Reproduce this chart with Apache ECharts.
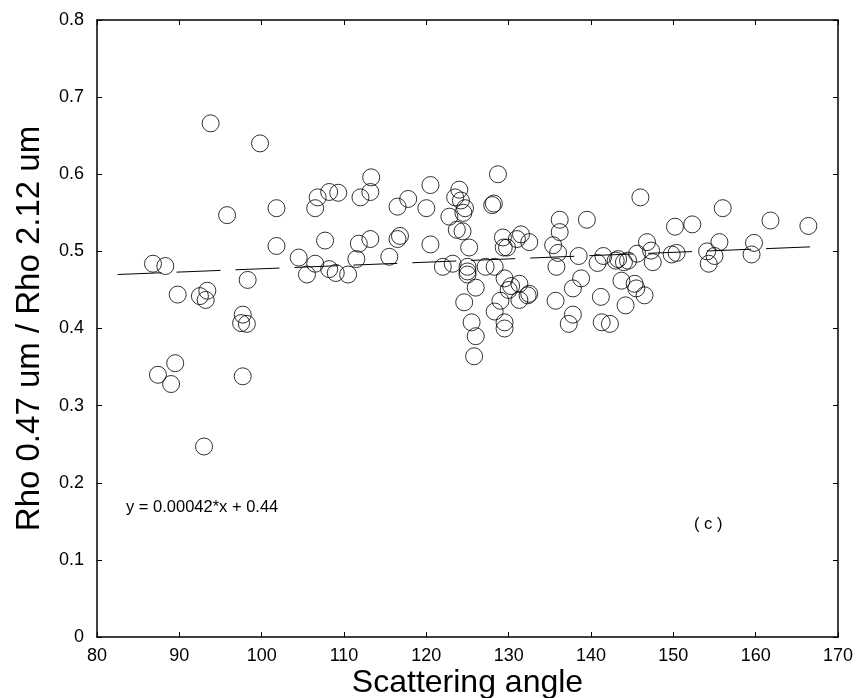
<!DOCTYPE html>
<html>
<head>
<meta charset="utf-8">
<script src="https://cdn.jsdelivr.net/npm/echarts@6/dist/echarts.min.js"></script>
<style>html,body{margin:0;padding:0;background:#fff}#c{width:867px;height:698px}</style>
</head>
<body>
<div id="c"></div>
<script>
const xTicks = [80, 90, 100, 110, 120, 130, 140, 150, 160, 170];
const yTicks = [0, 0.1, 0.2, 0.3, 0.4, 0.5, 0.6, 0.7, 0.8];
const angleX = [86.8,88.3,87.4,89.0,89.5,89.8,92.5,93.2,93.4,93.0,93.8,95.8,97.5,97.7,98.2,97.7,98.3,99.8,101.8,101.8,
104.5,105.5,106.5,106.5,106.8,107.7,108.2,108.2,109.0,109.3,110.5,111.5,111.8,112.0,113.2,113.3,113.2,115.5,116.5,116.5,
116.8,117.8,120.0,120.5,120.5,122.0,122.8,123.2,123.5,123.7,124.0,124.2,124.5,124.7,124.4,124.6,125.0,125.0,125.0,125.2,
125.5,125.8,126.0,126.0,127.2,128.0,128.2,128.3,128.3,128.7,129.0,129.3,129.4,129.5,129.5,129.5,129.8,130.0,130.3,131.0,
131.3,131.3,131.5,132.3,132.5,132.5,135.4,135.7,135.8,136.0,136.2,136.2,137.3,137.8,137.8,138.5,138.8,139.5,140.8,141.2,
141.3,141.5,142.3,143.0,143.3,143.7,144.0,144.2,144.5,145.3,145.5,145.6,146.0,146.5,146.8,147.3,147.5,149.8,150.2,150.4,
152.3,154.1,154.3,155.0,155.6,156.0,159.5,159.8,161.8,166.4];
const ratioY = [0.484,0.481,0.340,0.328,0.355,0.444,0.442,0.437,0.449,0.247,0.666,0.547,0.407,0.418,0.406,0.338,0.463,0.640,0.556,0.507,
0.492,0.470,0.484,0.556,0.570,0.514,0.577,0.477,0.472,0.576,0.470,0.490,0.510,0.570,0.577,0.596,0.516,0.493,0.558,0.516,
0.520,0.568,0.556,0.586,0.509,0.480,0.545,0.484,0.570,0.528,0.580,0.566,0.550,0.556,0.526,0.434,0.480,0.474,0.470,0.505,
0.408,0.364,0.390,0.453,0.480,0.560,0.562,0.480,0.422,0.600,0.436,0.518,0.505,0.465,0.400,0.408,0.505,0.450,0.455,0.516,
0.437,0.458,0.522,0.443,0.445,0.512,0.508,0.436,0.480,0.498,0.525,0.541,0.406,0.418,0.452,0.494,0.465,0.541,0.485,0.441,
0.408,0.494,0.406,0.488,0.490,0.462,0.486,0.430,0.488,0.458,0.452,0.497,0.570,0.443,0.512,0.501,0.486,0.496,0.532,0.498,
0.535,0.500,0.484,0.494,0.512,0.556,0.496,0.511,0.540,0.533];
const fitX = [82.5, 167];
const fitY = [0.470, 0.506];

const pts = angleX.map((x, i) => [x, ratioY[i]]);
const fit = fitX.map((x, i) => [x, fitY[i]]);
const FONT = '"Liberation Sans", Arial, sans-serif';

const baseX = {
  type: 'value', min: xTicks[0], max: xTicks[xTicks.length - 1], interval: 10,
  axisLine: { show: true, onZero: false, lineStyle: { color: '#000', width: 1.5 } },
  axisTick: { show: true, inside: true, length: 5, lineStyle: { color: '#000' } },
  splitLine: { show: false }
};
const baseY = {
  type: 'value', min: yTicks[0], max: yTicks[yTicks.length - 1], interval: 0.1,
  axisLine: { show: true, onZero: false, lineStyle: { color: '#000', width: 1.5 } },
  axisTick: { show: true, inside: true, length: 5, lineStyle: { color: '#000' } },
  splitLine: { show: false }
};

const chart = echarts.init(document.getElementById('c'), null, { renderer: 'canvas' });
chart.setOption({
  animation: false,
  backgroundColor: '#fff',
  grid: { left: 97, right: 29, top: 20, bottom: 61, containLabel: false, outerBoundsMode: 'none' },
  xAxis: [
    Object.assign({}, baseX, {
      position: 'bottom',
      axisLabel: { color: '#000', fontSize: 18, fontFamily: FONT, margin: 10 },
      name: 'Scattering angle', nameLocation: 'middle', nameGap: 30, nameMoveOverlap: false,
      nameTextStyle: { color: '#000', fontSize: 32, fontFamily: FONT }
    }),
    Object.assign({}, baseX, { position: 'top', axisLabel: { show: false } })
  ],
  yAxis: [
    Object.assign({}, baseY, {
      position: 'left',
      axisLabel: { color: '#000', fontSize: 18, fontFamily: FONT, margin: 13 },
      name: 'Rho 0.47 um / Rho 2.12 um', nameLocation: 'middle', nameGap: 51, nameMoveOverlap: false,
      nameTextStyle: { color: '#000', fontSize: 33, fontFamily: FONT }
    }),
    Object.assign({}, baseY, { position: 'right', axisLabel: { show: false } })
  ],
  series: [
    {
      type: 'line', data: fit, showSymbol: false, symbol: 'none',
      lineStyle: { color: '#000', width: 1, type: [44, 15] }, z: 1
    },
    {
      type: 'scatter', data: pts, symbol: 'circle', symbolSize: 17,
      itemStyle: { color: 'rgba(0,0,0,0)', borderColor: '#000', borderWidth: 1 }, z: 2
    }
  ],
  graphic: [
    { type: 'text', left: 126, top: 499, style: { text: 'y = 0.00042*x + 0.44', fill: '#000', font: '16.5px ' + FONT } },
    { type: 'text', left: 694, top: 516, style: { text: '( c )', fill: '#000', font: '16.5px ' + FONT } }
  ]
});
</script>
</body>
</html>
